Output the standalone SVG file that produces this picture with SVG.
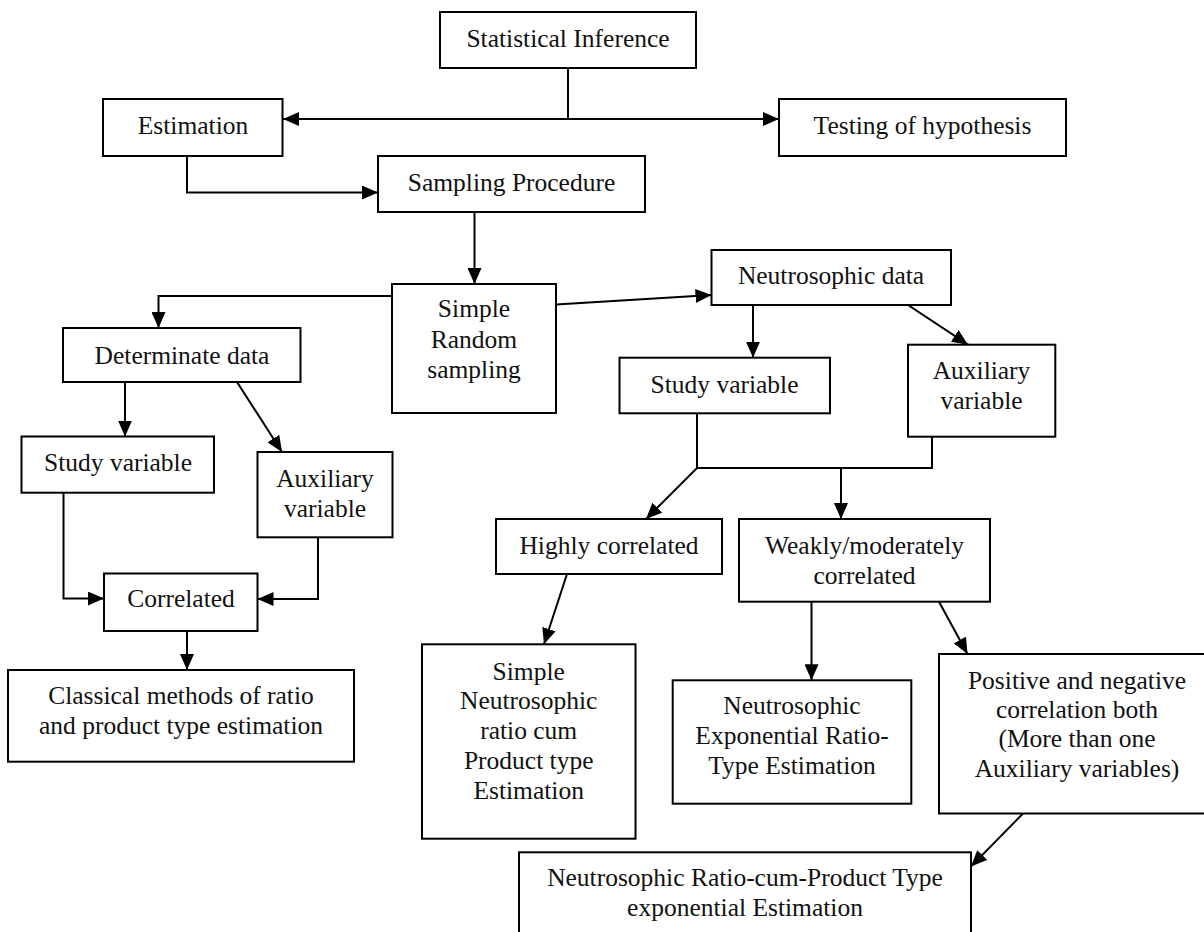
<svg xmlns="http://www.w3.org/2000/svg" width="1204" height="932" viewBox="0 0 1204 932">
<style>
.box{fill:#fff;stroke:#000;stroke-width:2}
.t{font-family:"Liberation Serif","Times New Roman",serif;font-size:25.5px;fill:#111;text-anchor:middle}
.c{fill:none;stroke:#000;stroke-width:2}
</style>
<defs>
<marker id="ah" viewBox="0 0 16 14" markerUnits="userSpaceOnUse" markerWidth="16" markerHeight="14" refX="16" refY="7" orient="auto">
<path d="M0,0 L16,7 L0,14 z" fill="#000"/>
</marker>
</defs>
<rect width="1204" height="932" fill="#fff"/>
<g id="connectors">
<path class="c" d="M568,68 V119"/>
<path class="c" d="M568,119 H283" marker-end="url(#ah)"/>
<path class="c" d="M568,119 H779" marker-end="url(#ah)"/>
<path class="c" d="M187,156 V192.5 H378" marker-end="url(#ah)"/>
<path class="c" d="M474.5,212 V284" marker-end="url(#ah)"/>
<path class="c" d="M392,296 H158.5 V328" marker-end="url(#ah)"/>
<path class="c" d="M556,304.5 L711.5,295" marker-end="url(#ah)"/>
<path class="c" d="M125,382 V436.5" marker-end="url(#ah)"/>
<path class="c" d="M237,382 L282,452" marker-end="url(#ah)"/>
<path class="c" d="M63.5,493 V598.5 H104" marker-end="url(#ah)"/>
<path class="c" d="M318,537 V599 H257.5" marker-end="url(#ah)"/>
<path class="c" d="M187,631 V670" marker-end="url(#ah)"/>
<path class="c" d="M753,305 V357.7" marker-end="url(#ah)"/>
<path class="c" d="M908,305 L968,344.7" marker-end="url(#ah)"/>
<path class="c" d="M697,413.3 V468 H932 V436.7"/>
<path class="c" d="M697,468 L646,519" marker-end="url(#ah)"/>
<path class="c" d="M841,468 V519" marker-end="url(#ah)"/>
<path class="c" d="M567,574 L544,644.3" marker-end="url(#ah)"/>
<path class="c" d="M811.5,601.7 V680.3" marker-end="url(#ah)"/>
<path class="c" d="M939,601.7 L967.5,654" marker-end="url(#ah)"/>
<path class="c" d="M1023,813.5 L971,866.5" marker-end="url(#ah)"/>
</g>
<g id="n-statistical-inference">
<rect class="box" x="440" y="12" width="256" height="56"/>
<text class="t" x="568" y="47">Statistical Inference</text>
</g>
<g id="n-estimation">
<rect class="box" x="103" y="99" width="179.5" height="57"/>
<text class="t" x="193" y="133.5">Estimation</text>
</g>
<g id="n-testing">
<rect class="box" x="779" y="99" width="287" height="57"/>
<text class="t" x="922.5" y="133.5">Testing of hypothesis</text>
</g>
<g id="n-sampling">
<rect class="box" x="378" y="156" width="267" height="56"/>
<text class="t" x="511.5" y="191">Sampling Procedure</text>
</g>
<g id="n-simple-random">
<rect class="box" x="392" y="284" width="164" height="129"/>
<text class="t" x="474" y="317">Simple</text>
<text class="t" x="474" y="347.5">Random</text>
<text class="t" x="474" y="378">sampling</text>
</g>
<g id="n-neutro-data">
<rect class="box" x="711.5" y="250" width="239.5" height="55"/>
<text class="t" x="831" y="284">Neutrosophic data</text>
</g>
<g id="n-determinate">
<rect class="box" x="63" y="328" width="237.5" height="54"/>
<text class="t" x="182" y="363.5">Determinate data</text>
</g>
<g id="n-study-left">
<rect class="box" x="21.5" y="436.5" width="192.5" height="56.2"/>
<text class="t" x="118" y="471">Study variable</text>
</g>
<g id="n-aux-left">
<rect class="box" x="257.5" y="452" width="135" height="85.3"/>
<text class="t" x="325" y="487">Auxiliary</text>
<text class="t" x="325" y="517">variable</text>
</g>
<g id="n-correlated">
<rect class="box" x="104" y="573.5" width="153.5" height="57.5"/>
<text class="t" x="181" y="607">Correlated</text>
</g>
<g id="n-classical">
<rect class="box" x="8" y="670" width="346" height="91.7"/>
<text class="t" x="181" y="703.5">Classical methods of ratio</text>
<text class="t" x="181" y="733.5">and product type estimation</text>
</g>
<g id="n-study-right">
<rect class="box" x="619.5" y="357.7" width="210.5" height="55.6"/>
<text class="t" x="724.5" y="393">Study variable</text>
</g>
<g id="n-aux-right">
<rect class="box" x="908" y="344.7" width="147.3" height="92"/>
<text class="t" x="981.5" y="378.5">Auxiliary</text>
<text class="t" x="981.5" y="408.5">variable</text>
</g>
<g id="n-highly">
<rect class="box" x="496" y="519" width="226" height="55"/>
<text class="t" x="609" y="553.5">Highly correlated</text>
</g>
<g id="n-weakly">
<rect class="box" x="739" y="519" width="251" height="82.7"/>
<text class="t" x="864.5" y="553.5">Weakly/moderately</text>
<text class="t" x="864.5" y="583.5">correlated</text>
</g>
<g id="n-simple-neutro">
<rect class="box" x="422" y="644.3" width="213.5" height="194.4"/>
<text class="t" x="528.7" y="679.5">Simple</text>
<text class="t" x="528.7" y="709">Neutrosophic</text>
<text class="t" x="528.7" y="738.5">ratio cum</text>
<text class="t" x="528.7" y="768.5">Product type</text>
<text class="t" x="528.7" y="798.5">Estimation</text>
</g>
<g id="n-neutro-exp">
<rect class="box" x="672.7" y="680.3" width="238.6" height="123.4"/>
<text class="t" x="792" y="713.5">Neutrosophic</text>
<text class="t" x="792" y="743.5">Exponential Ratio-</text>
<text class="t" x="792" y="773.5">Type Estimation</text>
</g>
<g id="n-positive">
<rect class="box" x="939" y="654" width="272" height="159.5"/>
<text class="t" x="1077" y="688.5">Positive and negative</text>
<text class="t" x="1077" y="717.5">correlation both</text>
<text class="t" x="1077" y="747">(More than one</text>
<text class="t" x="1077" y="777">Auxiliary variables)</text>
</g>
<g id="n-bottom">
<rect class="box" x="519" y="852.3" width="452" height="90"/>
<text class="t" x="745" y="885.5">Neutrosophic Ratio-cum-Product Type</text>
<text class="t" x="745" y="915.5">exponential Estimation</text>
</g>
</svg>
